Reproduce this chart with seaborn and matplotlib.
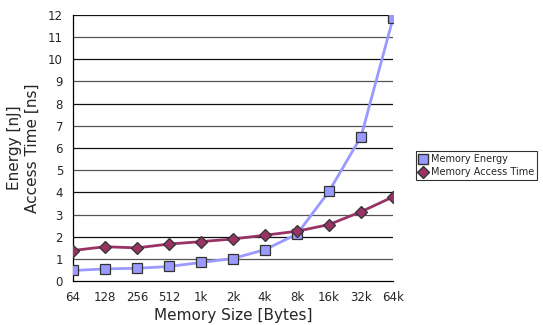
import numpy as np
import pandas as pd
import matplotlib
matplotlib.use("Agg")
import matplotlib.pyplot as plt
import seaborn as sns
from matplotlib.lines import Line2D

# data
sizes = ["64", "128", "256", "512", "1k", "2k", "4k", "8k", "16k", "32k", "64k"]
energy = [0.48, 0.55, 0.58, 0.66, 0.84, 1.02, 1.42, 2.12, 4.05, 6.52, 11.87]
access_time = [1.38, 1.55, 1.50, 1.67, 1.78, 1.90, 2.07, 2.25, 2.55, 3.13, 3.80]
series = ["Memory Energy", "Memory Access Time"]

df = pd.DataFrame({
    "size": sizes * 2,
    "pos": list(range(len(sizes))) * 2,
    "value": energy + access_time,
    "series": [series[0]] * len(sizes) + [series[1]] * len(sizes),
})

sns.set_style("white")
plt.rcParams['font.family'] = ['DejaVu Sans']

fig = plt.figure(figsize=(5.43, 3.25), dpi=100)
ax = fig.add_axes([0.134, 0.135, 0.590, 0.819])

palette = {"Memory Energy": "#9999ff", "Memory Access Time": "#993366"}
markers = {"Memory Energy": "s", "Memory Access Time": "D"}

# horizontal grid, alternating dark / grey like the original
for y in range(1, 13):
    ax.axhline(y, color="#111111" if y % 2 == 0 else "#555555", lw=0.9, zorder=0)

sns.lineplot(data=df, x="pos", y="value", hue="series", style="series",
             palette=palette, markers=markers, dashes=False, lw=2.0,
             markersize=7.5, markeredgecolor="#333333", markeredgewidth=0.9,
             ax=ax, legend=False, zorder=3)
for line in ax.lines:
    if line.get_marker() == "D":
        line.set_markersize(6)

ax.set_xlim(0, len(sizes) - 1)
ax.set_ylim(0, 12)
ax.set_xticks(range(len(sizes)))
ax.set_xticklabels(sizes)
ax.set_yticks(range(0, 13))
ax.tick_params(axis="both", labelsize=8.5, length=4, width=0.9, color="black",
               direction="out", pad=3)
ax.tick_params(axis="x", pad=3)
ax.set_xlabel("Memory Size [Bytes]", fontsize=11, labelpad=3)
ax.set_ylabel("Energy [nJ]\nAccess Time [ns]", fontsize=11, labelpad=6)

for s in ["top", "right"]:
    ax.spines[s].set_visible(False)
for s in ["left", "bottom"]:
    ax.spines[s].set_color("black")
    ax.spines[s].set_linewidth(0.9)

handles = [
    Line2D([], [], ls="none", marker="s", markersize=7.5, markerfacecolor="#9999ff",
           markeredgecolor="#333333"),
    Line2D([], [], ls="none", marker="D", markersize=6, markerfacecolor="#993366",
           markeredgecolor="#333333"),
]
leg = fig.legend(handles, series, loc="upper left", bbox_to_anchor=(0.767, 0.535),
                 fontsize=7, frameon=True, fancybox=False, borderpad=0.3,
                 handlelength=0.8, handletextpad=0.4, labelspacing=0.3,
                 borderaxespad=0)
leg.get_frame().set_edgecolor("black")
leg.get_frame().set_linewidth(0.8)

fig.savefig("out.png", dpi=100)
